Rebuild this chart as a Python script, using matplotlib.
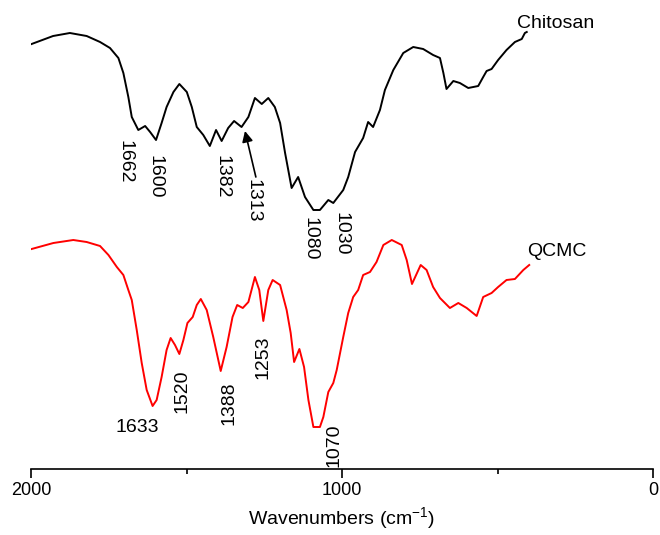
import numpy as np
import matplotlib
matplotlib.use("Agg")
import matplotlib.pyplot as plt
from matplotlib.ticker import MultipleLocator

plt.rcParams['font.family'] = ['Liberation Sans', 'DejaVu Sans']
plt.rcParams['mathtext.default'] = 'regular'

# chitosan spectrum (wavenumber, transmittance a.u.)
chi_wn = [1998, 1929, 1875, 1821, 1778, 1746, 1719, 1703, 1687, 1676, 1655, 1633,
          1617, 1598, 1580, 1564, 1542, 1523, 1499, 1483, 1467, 1446, 1425, 1405,
          1387, 1366, 1347, 1323, 1301, 1280, 1258, 1237, 1216, 1199, 1183, 1162,
          1141, 1119, 1092, 1071, 1044, 1028, 996, 980, 958, 932, 916, 900, 878,
          862, 835, 803, 771, 739, 707, 685, 674, 664, 642, 621, 594, 562, 546,
          535, 519, 498, 471, 444, 422, 412, 406]
chi_t = [425, 433, 436, 433, 427, 421, 411, 396, 372, 352, 339, 343,
         337, 329, 346, 362, 377, 385, 377, 362, 342, 334, 323, 339,
         328, 341, 348, 342, 352, 371, 365, 371, 362, 346, 316, 281,
         292, 272, 259, 259, 269, 266, 279, 292, 317, 331, 347, 342, 359,
         379, 399, 416, 422, 420, 414, 411, 396, 380, 388, 386, 381, 383, 392,
         398, 400, 409, 419, 427, 430, 436, 437]

# QCMC spectrum
qc_wn = [1998, 1928, 1864, 1821, 1778, 1751, 1724, 1703, 1687, 1676, 1660, 1644,
         1628, 1609, 1596, 1580, 1564, 1551, 1537, 1523, 1510, 1497, 1480, 1467,
         1454, 1435, 1414, 1390, 1371, 1352, 1337, 1319, 1301, 1280, 1266, 1253,
         1237, 1223, 1199, 1178, 1165, 1154, 1137, 1122, 1108, 1092, 1071, 1060,
         1044, 1028, 1017, 996, 980, 964, 948, 932, 910, 889, 867, 840, 808, 792,
         775, 747, 728, 707, 685, 653, 626, 599, 567, 546, 519, 498, 471, 444,
         417, 398]
qc_t = [220, 226, 229, 227, 223, 214, 202, 194, 179, 169, 139, 106,
        79, 63, 69, 92, 119, 131, 124, 115, 129, 146, 152, 164,
        170, 159, 132, 98, 122, 152, 164, 161, 167, 192, 179, 148,
        179, 189, 184, 159, 136, 107, 120, 102, 69, 42, 42, 52,
        77, 86, 99, 132, 156, 172, 179, 194, 197, 207, 224, 229, 224, 209,
        185, 204, 199, 182, 171, 161, 166, 161, 153, 172, 176, 182, 189, 190,
        199, 204]

chi_labels = ["1662", "1600", "1382", "1313", "1080", "1030"]
chi_lab_pos = [(1698, 307), (1601, 292), (1386, 292), (1286, 268), (1103, 230), (1003, 235)]
qc_labels = ["1520", "1388", "1253", "1070"]
qc_lab_pos = [(1515, 78), (1363, 66), (1254, 112), (1026, 24)]

fig = plt.figure(figsize=(6.6, 5.35), dpi=100)
ax = fig.add_axes([31/660, 66/535, 622/660, 469/535])

ax.plot(chi_wn, chi_t, color='black', lw=1.4, solid_joinstyle='round')
ax.plot(qc_wn, qc_t, color='red', lw=1.4, solid_joinstyle='round')

for lab, (x, y) in zip(chi_labels, chi_lab_pos):
    ax.text(x, y, lab, rotation=-90, ha='center', va='center', fontsize=14)
for lab, (x, y) in zip(qc_labels, qc_lab_pos):
    ax.text(x, y, lab, rotation=90, ha='center', va='center', fontsize=14)
ax.text(1659, 41, "1633", ha='center', va='center', fontsize=14)

# arrow to the 1313 band
ax.annotate("", xy=(1312, 338), xytext=(1277, 292),
            arrowprops=dict(arrowstyle='-|>', color='black', lw=1.2,
                            mutation_scale=16, shrinkA=0, shrinkB=0))

ax.text(437, 446, "Chitosan", ha='left', va='center', fontsize=14)
ax.text(405, 218, "QCMC", ha='left', va='center', fontsize=14)

ax.set_xlim(2000, 0)
ax.set_ylim(0, 469)
for s in ['top', 'right', 'left']:
    ax.spines[s].set_visible(False)
ax.spines['bottom'].set_linewidth(1.2)
ax.set_yticks([])
ax.xaxis.set_major_locator(MultipleLocator(1000))
ax.xaxis.set_minor_locator(MultipleLocator(500))
ax.tick_params(axis='x', which='major', length=6.5, width=1.2, labelsize=13, pad=3)
ax.tick_params(axis='x', which='minor', length=3.6, width=1.2)
ax.set_xlabel("Wavenumbers (cm$^{-1}$)", fontsize=14, labelpad=4)
ax.patch.set_visible(False)

fig.savefig("out.png", dpi=100)
